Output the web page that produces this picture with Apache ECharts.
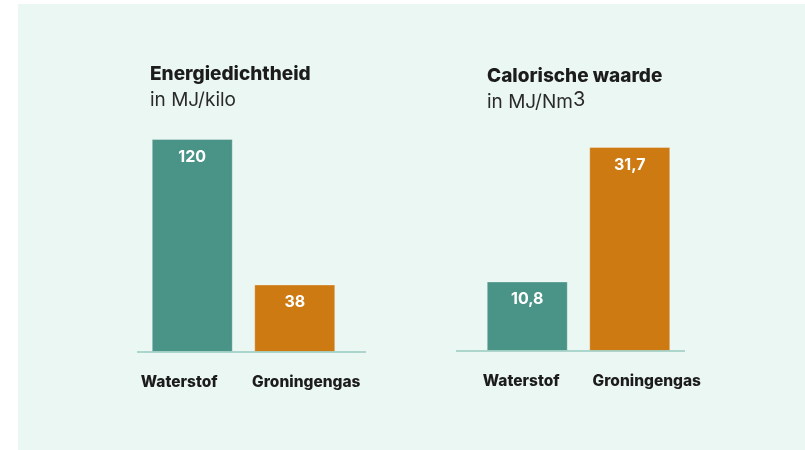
<!DOCTYPE html>
<html>
<head>
<meta charset="utf-8">
<script src="https://cdn.jsdelivr.net/npm/echarts@6/dist/echarts.min.js"></script>
<style>
  html, body { margin: 0; padding: 0; background: #ffffff; }
  #panel { position: absolute; left: 18px; top: 4px; width: 787px; height: 446px; background: #ebf7f2; }
  #chart { position: absolute; left: 0; top: 0; width: 805px; height: 450px; }
</style>
</head>
<body>
<div id="panel"></div>
<div id="chart"></div>
<script>
// data
const categories = ['Waterstof', 'Groningengas']
const energyDensity = [120, 38]       // MJ/kilo
const calorificValue = [10.8, 31.7]   // MJ/Nm3
const barColors = ['#4a9387', '#cd7a12']

const FONT = 'Inter, "Noto Sans", sans-serif'
const chart = echarts.init(document.getElementById('chart'), null, { renderer: 'canvas' })

function fmt(v) {
  return String(v).replace('.', ',')
}

function xAxisFor(gridIndex, shifts) {
  return {
    type: 'category',
    gridIndex: gridIndex,
    data: categories,
    axisLine: { show: false },
    axisTick: { show: false },
    axisLabel: {
      interval: 0,
      hideOverlap: false,
      margin: 22,
      formatter: (v, i) => '{s' + i + '|' + v + '}',
      rich: {
        s0: { fontFamily: FONT, fontSize: 15.5, fontWeight: 800, color: '#1c1c1c', padding: shifts[0] },
        s1: { fontFamily: FONT, fontSize: 15.5, fontWeight: 800, color: '#1c1c1c', padding: shifts[1] }
      }
    }
  }
}

function yAxisFor(gridIndex, max) {
  return {
    type: 'value',
    gridIndex: gridIndex,
    min: 0,
    max: max,
    show: false,
    splitLine: { show: false }
  }
}

function barSeries(idx, values) {
  return {
    type: 'bar',
    xAxisIndex: idx,
    yAxisIndex: idx,
    barWidth: 81,
    data: values.map((v, i) => ({
      value: v,
      itemStyle: { color: barColors[i] }
    })),
    itemStyle: { borderColor: 'rgba(255,255,255,0.3)', borderWidth: 1 },
    label: {
      show: true,
      position: 'insideTop',
      distance: 10,
      formatter: p => fmt(p.value),
      fontFamily: FONT,
      fontSize: 16,
      fontWeight: 'bold',
      lineHeight: 16,
      color: '#ffffff'
    },
    silent: true
  }
}

const titleText = { fontFamily: FONT, fontSize: 19, fontWeight: 800, color: '#1c1c1c', lineHeight: 19 }
const subText = { fontFamily: FONT, fontSize: 19, color: '#2a2a2a', lineHeight: 19 }

const option = {
  animation: false,
  backgroundColor: 'transparent',
  title: [
    {
      text: 'Energiedichtheid',
      subtext: 'in MJ/kilo',
      left: 150,
      top: 65,
      itemGap: 7,
      padding: 0,
      textStyle: titleText,
      subtextStyle: subText
    },
    {
      text: 'Calorische waarde',
      subtext: '{a|in MJ/Nm}{b|3}',
      left: 487,
      top: 67,
      itemGap: 4,
      padding: 0,
      textStyle: titleText,
      subtextStyle: Object.assign({}, subText, {
        rich: {
          a: { fontFamily: FONT, fontSize: 19, color: '#2a2a2a', lineHeight: 22, verticalAlign: 'bottom' },
          b: { fontFamily: FONT, fontSize: 20, color: '#2a2a2a', lineHeight: 20, verticalAlign: 'top' }
        }
      })
    }
  ],
  grid: [
    { left: 141, right: 459, top: 139, bottom: 98 },
    { left: 476, right: 124, top: 147, bottom: 99 }
  ],
  xAxis: [
    xAxisFor(0, [[0, 26, 0, 0], [0, 0, 0, 23]]),
    xAxisFor(1, [[0, 12, 0, 0], [0, 0, 0, 34]])
  ],
  yAxis: [
    yAxisFor(0, 120),
    yAxisFor(1, 31.7)
  ],
  series: [
    barSeries(0, energyDensity),
    barSeries(1, calorificValue)
  ],
  graphic: [
    { type: 'line', z: 10, shape: { x1: 137, y1: 352, x2: 366, y2: 352 }, style: { stroke: '#97cabe', lineWidth: 1.5 } },
    { type: 'line', z: 10, shape: { x1: 456, y1: 351, x2: 685, y2: 351 }, style: { stroke: '#97cabe', lineWidth: 1.5 } }
  ]
}

chart.setOption(option)
</script>
</body>
</html>
